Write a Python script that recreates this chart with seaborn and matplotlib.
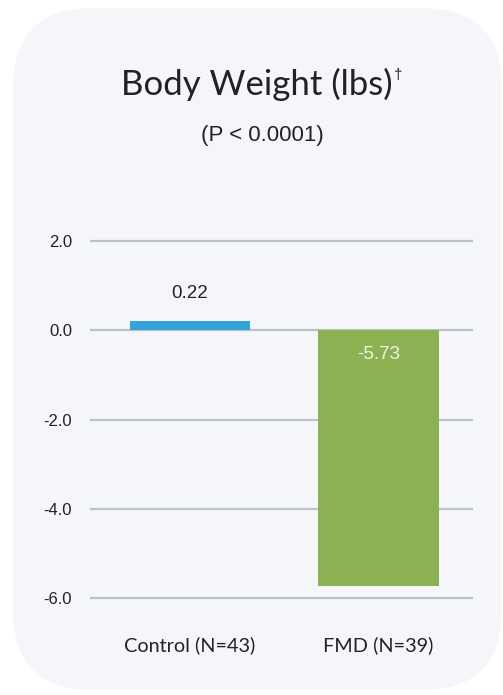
import matplotlib
matplotlib.use("Agg")
import matplotlib.pyplot as plt
from matplotlib.patches import FancyBboxPatch
import seaborn as sns

categories = ["Control (N=43)", "FMD (N=39)"]
changes = [0.22, -5.73]
value_labels = ["0.22", "-5.73"]
yticks = [-6.0, -4.0, -2.0, 0.0, 2.0]

bar_colors = ["#35a2d8", "#8cb153"]
panel_color = "#f4f6fa"
grid_color = "#b7c4ce"
text_color = "#222222"

sns.set_theme(style="white")
plt.rcParams["font.family"] = ["Liberation Sans", "DejaVu Sans"]

fig = plt.figure(figsize=(5.03, 6.95), dpi=100)
fig.patch.set_facecolor("white")

# rounded background card
card = FancyBboxPatch((0.13 + 0.8, 0.05 + 0.8), 4.89 - 1.6, 6.82 - 1.6,
                      boxstyle="round,pad=0.8", transform=fig.dpi_scale_trans,
                      facecolor=panel_color, edgecolor="none", zorder=-5)
fig.patches.append(card)

ax = fig.add_axes([0.1789, 0.1331, 0.7614, 0.5263])
ax.set_facecolor("none")

sns.barplot(x=categories, y=changes, hue=categories, palette=bar_colors,
            width=0.64, saturation=1, legend=False, linewidth=0, ax=ax, zorder=3)

ax.set_ylim(-6.1, 2.1)
ax.set_xlim(-0.53, 1.50)
ax.set_yticks(yticks)
ax.set_yticklabels([f"{t:.1f}" for t in yticks])
ax.yaxis.grid(True, color=grid_color, linewidth=1.6)
ax.set_axisbelow(True)
for s in ax.spines.values():
    s.set_visible(False)
ax.tick_params(axis="y", length=0, pad=13, labelsize=12, labelcolor=text_color)
ax.tick_params(axis="x", length=0, pad=24, labelsize=14.3, labelcolor=text_color)
for lab in ax.get_xticklabels():
    lab.set_family(["Lato", "DejaVu Sans"])
ax.set_xlabel("")
ax.set_ylabel("")

# value labels
ax.annotate(value_labels[0], xy=(0, changes[0]), xytext=(0, 19),
            textcoords="offset pixels", ha="center", va="bottom",
            fontsize=13.5, color=text_color)
ax.annotate(value_labels[1], xy=(1, 0), xytext=(0, -24),
            textcoords="offset pixels", ha="center", va="center",
            fontsize=13.5, color="#eef3e4")

# title and subtitle
title = fig.text(257 / 503, 1 - 95 / 695, "Body Weight (lbs)", ha="center",
                 va="baseline", fontsize=25, color=text_color,
                 family=["Lato", "DejaVu Sans"])
fig.add_artist(plt.Annotation("\u2020", xy=(1, 1), xycoords=title,
                              xytext=(1, 0), textcoords="offset points",
                              ha="left", va="top", fontsize=11,
                              color=text_color, annotation_clip=False))
fig.text(262 / 503, 1 - 141 / 695, "(P < 0.0001)", ha="center",
         va="baseline", fontsize=16, color=text_color)

fig.savefig("out.png", dpi=100, facecolor="white")
